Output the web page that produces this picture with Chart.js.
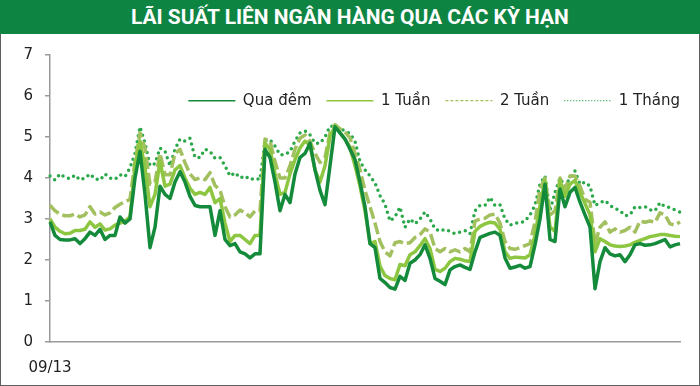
<!DOCTYPE html>
<html>
<head>
<meta charset="utf-8">
<script src="https://cdn.jsdelivr.net/npm/chart.js@4/dist/chart.umd.min.js"></script>
<style>
  html, body { margin: 0; padding: 0; background: #fff; }
  #wrap { position: relative; width: 700px; height: 386px; overflow: hidden; background: #fff; }
  #title {
    position: absolute; left: 0; top: 0; width: 700px; height: 34px;
    background: #0e8443; color: #fff; text-align: center;
    font: bold 21px Roboto, "DejaVu Sans", sans-serif; line-height: 34px;
    white-space: nowrap;
  }
  #title span { display: inline-block; transform-origin: center; }
  #frame {
    position: absolute; left: 0; top: 34px; width: 700px; height: 352px;
    box-sizing: border-box; border: 1.5px solid #5f5f5f; border-top: none;
    pointer-events: none;
  }
  #chart { position: absolute; left: 0; top: 34px; }
</style>
</head>
<body>
<div id="wrap">
  <div id="title"><span>LÃI SUẤT LIÊN NGÂN HÀNG QUA CÁC KỲ HẠN</span></div>
  <canvas id="chart" width="700" height="352"></canvas>
  <div id="frame"></div>
</div>
<script>
"use strict";

// one reading every ~5px along the x axis, first point is 09/13
const overnight = [
  2.93, 2.6, 2.5, 2.49, 2.49, 2.52, 2.4, 2.52, 2.68, 2.6,
  2.75, 2.5, 2.6, 2.6, 3.05, 2.9, 3.0, 4.0, 4.65, 3.6,
  2.3, 2.8, 3.8, 3.6, 3.5, 3.9, 4.15, 3.9, 3.55, 3.33,
  3.3, 3.3, 3.3, 2.6, 3.2, 2.5, 2.35, 2.4, 2.2, 2.15,
  2.05, 2.15, 2.15, 4.7, 4.5, 3.9, 3.2, 3.6, 3.4, 4.1,
  4.5, 4.6, 4.85, 4.2, 3.7, 3.35, 4.3, 5.25, 5.1, 4.95,
  4.7, 4.45, 3.9, 3.3, 2.4, 2.3, 1.55, 1.45, 1.33, 1.29,
  1.6, 1.5, 1.92, 2.0, 2.13, 2.37, 2.04, 1.55, 1.48, 1.4,
  1.76, 1.84, 1.88, 1.82, 1.77, 2.2, 2.55, 2.6, 2.65, 2.68,
  2.6, 2.05, 1.8, 1.83, 1.87, 1.8, 1.84, 2.37, 3.0, 3.85,
  2.5, 2.45, 3.73, 3.3, 3.65, 3.77, 3.41, 3.1, 2.8, 1.3,
  1.96, 2.3, 2.15, 2.1, 2.13, 1.96, 2.13, 2.37, 2.4, 2.36,
  2.37, 2.4, 2.45, 2.5, 2.32, 2.37, 2.4,
];

const week1 = [
  3.0, 2.8, 2.7, 2.64, 2.65, 2.72, 2.72, 2.75, 2.93, 2.8,
  2.88, 2.73, 2.76, 2.85, 2.9, 2.95, 3.05, 4.3, 4.9, 4.25,
  3.3, 3.6, 4.4, 3.8, 3.85, 4.2, 4.3, 4.0, 3.75, 3.6,
  3.65, 3.6, 3.77, 3.4, 3.5, 2.9, 2.45, 2.6, 2.6, 2.5,
  2.4, 2.6, 2.6, 4.85, 4.7, 4.1, 3.6, 3.65, 4.1, 4.45,
  4.73, 4.9, 4.8, 4.2, 3.9, 4.3, 5.0, 5.26, 5.1, 4.95,
  4.75, 4.3, 3.8, 3.2, 2.4, 2.45, 1.85, 1.62, 1.55, 1.52,
  1.89, 1.86, 2.13, 2.2, 2.35, 2.52, 2.28, 1.77, 1.72, 1.8,
  1.96, 2.04, 2.02, 1.98, 1.96, 2.7, 2.82, 2.88, 2.92, 2.9,
  2.75, 2.2, 2.04, 2.07, 2.06, 2.05, 2.13, 2.6, 3.33, 3.94,
  2.8, 2.7, 3.94, 3.55, 3.85, 3.94, 3.65, 3.38, 3.1, 2.2,
  2.52, 2.45, 2.37, 2.34, 2.33, 2.34, 2.37, 2.43, 2.48, 2.52,
  2.57, 2.59, 2.62, 2.62, 2.6, 2.58, 2.57,
];

const week2 = [
  3.34, 3.2, 3.12, 3.08, 3.08, 3.12, 3.05, 3.1, 3.3, 3.12,
  3.17, 3.1, 3.15, 3.28, 3.36, 3.42, 3.48, 4.4, 5.1, 4.73,
  3.85, 3.9, 4.6, 4.08, 4.08, 4.6, 4.7, 4.37, 4.1, 3.96,
  4.0, 3.96, 4.13, 3.82, 3.7, 3.3, 3.05, 3.1, 3.22, 3.15,
  3.05, 3.2, 3.2, 4.95, 4.9, 4.4, 4.0, 4.0, 4.3, 4.7,
  4.97, 5.05, 4.9, 4.6, 4.38, 4.5, 5.1, 5.3, 5.2, 5.12,
  4.98, 4.6, 4.2, 3.7, 3.3, 2.9, 2.45, 2.2, 2.1, 2.42,
  2.45, 2.4, 2.42, 2.55, 2.62, 2.76, 2.68, 2.28, 2.2, 2.28,
  2.2, 2.25, 2.2, 2.28, 2.2, 2.95, 3.0, 3.02, 3.1, 3.12,
  2.9, 2.45, 2.28, 2.26, 2.3, 2.35, 2.4, 2.93, 3.73, 4.0,
  3.1, 3.2, 4.0, 3.73, 4.05, 4.05, 3.8, 3.48, 3.41, 2.4,
  2.8, 2.93, 2.68, 2.76, 2.68, 2.72, 2.8, 2.68, 2.95, 2.92,
  2.95, 2.92, 3.15, 3.1, 2.88, 2.85, 2.93,
];

const month1 = [
  4.05, 3.95, 4.1, 4.02, 3.98, 4.07, 3.95, 4.0, 4.1, 3.98,
  3.95, 4.1, 4.0, 3.97, 4.08, 4.03, 4.25, 4.6, 5.25, 4.85,
  4.3, 4.35, 4.73, 4.65, 4.3, 4.7, 4.95, 4.9, 4.97, 4.5,
  4.5, 4.7, 4.65, 4.48, 4.5, 4.3, 4.05, 4.13, 4.0, 4.05,
  3.96, 4.0, 3.96, 4.9, 4.93, 4.78, 4.57, 4.57, 4.65, 4.9,
  5.1, 5.15, 5.05, 4.85, 4.85, 5.0, 5.26, 5.26, 5.2, 5.15,
  5.08, 4.9, 4.4, 4.2, 4.05, 3.88, 3.57, 3.36, 2.95, 3.05,
  3.29, 2.8, 3.0, 2.88, 3.0, 3.17, 3.0, 2.76, 2.7, 2.75,
  2.7, 2.64, 2.68, 2.72, 2.64, 3.2, 3.33, 3.33, 3.53, 3.33,
  3.35, 3.0, 2.85, 2.9, 2.9, 2.95, 3.1, 3.33, 3.85, 4.05,
  3.2, 3.65, 4.0, 3.8, 4.0, 4.17, 3.85, 3.9, 3.8, 3.33,
  3.4, 3.45, 3.33, 3.26, 3.2, 3.08, 3.1, 3.3, 3.28, 3.3,
  3.22, 3.2, 3.4, 3.3, 3.28, 3.22, 3.17,
];

const seriesNames = ["Qua đêm", "1 Tuần", "2 Tuần", "1 Tháng"];
const firstDate = "09/13";
const yTicks = [0, 1, 2, 3, 4, 5, 6, 7];

const xLabels = overnight.map((_, i) => (i === 0 ? firstDate : ""));

const FONT = "'DejaVu Sans', Verdana, sans-serif";
const LEGEND_GAP = 15;

// fit the condensed-looking title to its width in the reference
const titleSpan = document.querySelector("#title span");
titleSpan.style.transform = `scaleX(${438 / titleSpan.offsetWidth})`;

const legendLook = [
  { lineWidth: 1.5, lineDash: [] },
  { lineWidth: 1.5, lineDash: [] },
  { lineWidth: 1.2, lineDash: [3, 2] },
  { lineWidth: 1.2, lineDash: [1, 2] },
];

// legend sits inside the plot, as a single row ending at the right edge
const legendInArea = {
  id: "legendInArea",
  beforeUpdate(chart) {
    if (chart.legend && !chart.legend._row) {
      chart.legend.isHorizontal = () => true;
      chart.legend._row = true;
    }
  },
  afterLayout(chart) {
    const lg = chart.legend;
    if (!lg) return;
    lg.left = chart.chartArea.left;
    lg.right = chart.chartArea.right + LEGEND_GAP;
    lg.top = chart.chartArea.top;
  },
};

new Chart(document.getElementById("chart"), {
  type: "line",
  data: {
    labels: xLabels,
    datasets: [
      { label: seriesNames[0], data: overnight, borderColor: "#148a3b", borderWidth: 3.5 },
      { label: seriesNames[1], data: week1, borderColor: "#8dc641", borderWidth: 3.5 },
      { label: seriesNames[2], data: week2, borderColor: "#a2c05f", borderWidth: 3.5, borderDash: [12, 4] },
      {
        label: seriesNames[3], data: month1, borderColor: "#2aa84a", borderWidth: 3.5,
        borderDash: [0, 6], borderCapStyle: "round",
      },
    ],
  },
  plugins: [legendInArea],
  options: {
    responsive: false,
    animation: false,
    devicePixelRatio: 1,
    elements: { point: { radius: 0 }, line: { tension: 0, borderJoinStyle: "round" } },
    layout: { padding: { top: 17, right: 20, bottom: 0, left: 0 } },
    plugins: {
      tooltip: { enabled: false },
      legend: {
        position: "chartArea",
        align: "end",
        title: { display: true, text: "", padding: { top: 22, bottom: 0 }, font: { size: 1 } },
        labels: {
          usePointStyle: true,
          pointStyle: "line",
          pointStyleWidth: 47,
          padding: LEGEND_GAP,
          color: "#222",
          font: { family: FONT, size: 15 },
          generateLabels: (chart) =>
            Chart.defaults.plugins.legend.labels.generateLabels(chart).map((item, i) => ({
              ...item,
              lineWidth: legendLook[i].lineWidth,
              lineDash: legendLook[i].lineDash,
            })),
        },
      },
    },
    scales: {
      x: {
        type: "category",
        offset: false,
        grid: { display: false },
        border: { display: true, color: "#9a9a9a", width: 1.5 },
        ticks: {
          autoSkip: false,
          maxRotation: 0,
          padding: 9,
          color: "#222",
          font: { family: FONT, size: 15 },
        },
        afterFit: (s) => { s.height = 44; },
      },
      y: {
        min: 0,
        max: 7,
        afterBuildTicks: (s) => { s.ticks = yTicks.map((v) => ({ value: v })); },
        grid: { drawOnChartArea: false, drawTicks: true, tickLength: 5, color: "#9a9a9a", lineWidth: 1.5 },
        border: { display: true, color: "#9a9a9a", width: 1.5 },
        ticks: { padding: 12, color: "#222", font: { family: FONT, size: 15 } },
        afterFit: (s) => { s.width = 50; },
      },
    },
  },
});
</script>
</body>
</html>
